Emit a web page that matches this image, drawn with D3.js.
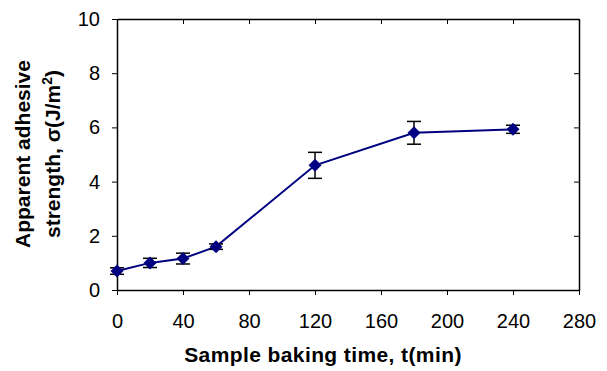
<!DOCTYPE html>
<html>
<head>
<meta charset="utf-8">
<script src="https://cdn.jsdelivr.net/npm/d3@7"></script>
<style>
  body { margin: 0; background: #fff; }
  text { font-family: "Liberation Sans", Arial, sans-serif; }
</style>
</head>
<body>
<div id="chart"></div>
<script>
const width = 607;
const height = 371;

// data
const times = [0, 20, 40, 60, 120, 180, 240];
const strength = [0.70, 1.00, 1.16, 1.60, 4.60, 5.80, 5.93];
const errors = [0.12, 0.17, 0.20, 0.10, 0.48, 0.42, 0.15];
const xTicks = [0, 40, 80, 120, 160, 200, 240, 280];
const yTicks = [0, 2, 4, 6, 8, 10];

const margin = {left: 117, right: 28, top: 19, bottom: 81};

let svg = d3.select("#chart").append("svg").attr("width", width).attr("height", height);

const x = d3.scaleLinear().domain([0, 280]).range([margin.left, width - margin.right]);
const y = d3.scaleLinear().domain([0, 10]).range([height - margin.bottom, margin.top]);

// bottom axis, ticks outward
let xAxis = svg.append("g").attr("transform", "translate(0," + y(0) + ")")
  .call(d3.axisBottom(x).tickValues(xTicks).tickSize(5).tickPadding(19).tickSizeOuter(0));
// left axis, ticks outward
let yAxis = svg.append("g").attr("transform", "translate(" + x(0) + ",0)")
  .call(d3.axisLeft(y).tickValues(yTicks).tickSize(5).tickPadding(12).tickSizeOuter(0));
// top and right, ticks inward, no labels
let topAxis = svg.append("g").attr("transform", "translate(0," + y(10) + ")")
  .call(d3.axisBottom(x).tickValues(xTicks).tickSize(5).tickFormat("").tickSizeOuter(0));
let rightAxis = svg.append("g").attr("transform", "translate(" + x(280) + ",0)")
  .call(d3.axisLeft(y).tickValues(yTicks).tickSize(5).tickFormat("").tickSizeOuter(0));

[xAxis, yAxis, topAxis, rightAxis].forEach(a => {
  a.selectAll("path").attr("stroke", "#000").attr("stroke-width", 1.5);
  a.selectAll("line").attr("stroke", "#000").attr("stroke-width", 1);
  a.selectAll("text").attr("font-size", 20).attr("fill", "#000")
    .style("font-family", "'Liberation Sans', Arial, sans-serif");
});

// line
const pts = times.map((t, i) => ({t: t, v: strength[i], e: errors[i]}));
svg.append("path").datum(pts)
  .attr("fill", "none").attr("stroke", "#000080").attr("stroke-width", 2)
  .attr("d", d3.line().x(d => x(d.t)).y(d => y(d.v)));

// error bars
let bars = svg.append("g").attr("stroke", "#000").attr("stroke-width", 1.5);
pts.forEach(d => {
  bars.append("line").attr("x1", x(d.t)).attr("x2", x(d.t)).attr("y1", y(d.v - d.e)).attr("y2", y(d.v + d.e));
  bars.append("line").attr("x1", x(d.t) - 7).attr("x2", x(d.t) + 7).attr("y1", y(d.v - d.e)).attr("y2", y(d.v - d.e));
  bars.append("line").attr("x1", x(d.t) - 7).attr("x2", x(d.t) + 7).attr("y1", y(d.v + d.e)).attr("y2", y(d.v + d.e));
});

// diamond markers
const r = 6.5;
svg.append("g").selectAll("path").data(pts).join("path")
  .attr("fill", "#000080")
  .attr("d", d => "M" + x(d.t) + "," + (y(d.v) - r) + "L" + (x(d.t) + r) + "," + y(d.v) +
    "L" + x(d.t) + "," + (y(d.v) + r) + "L" + (x(d.t) - r) + "," + y(d.v) + "Z");

// axis titles
svg.append("text").attr("x", 323).attr("y", 362).attr("text-anchor", "middle")
  .attr("font-size", 21).attr("font-weight", "bold").attr("letter-spacing", 0.4)
  .text("Sample baking time, t(min)");

let yt = svg.append("text").attr("transform", "translate(30,154) rotate(-90)")
  .attr("text-anchor", "middle").attr("font-size", 21).attr("font-weight", "bold");
yt.append("tspan").attr("x", 0).attr("dy", 0).text("Apparent adhesive");
let l2 = yt.append("tspan").attr("x", 0).attr("dy", 30);
l2.append("tspan").text("strength, σ(J/m");
l2.append("tspan").attr("dy", -8).attr("font-size", 14).text("2");
l2.append("tspan").attr("dy", 8).text(")");
</script>
</body>
</html>
